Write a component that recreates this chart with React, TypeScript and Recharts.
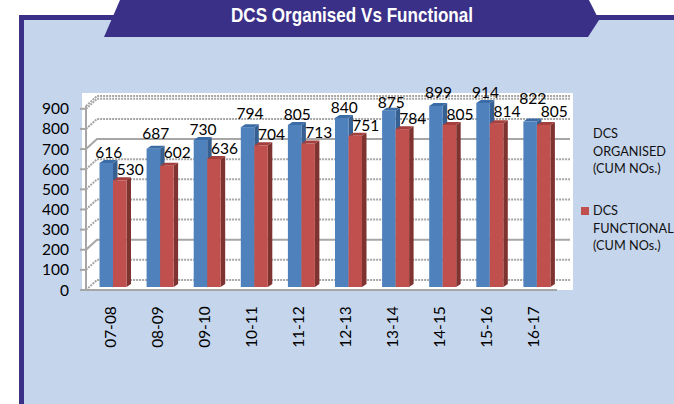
import React from "react";
import { BarChart, Bar, XAxis, YAxis, CartesianGrid, LabelList, Legend } from "recharts";

const categories = ["07-08", "08-09", "09-10", "10-11", "11-12", "12-13", "13-14", "14-15", "15-16", "16-17"];
const organised = [616, 687, 730, 794, 805, 840, 875, 899, 914, 822];
const functional = [530, 602, 636, 704, 713, 751, 784, 805, 814, 805];
const yTicks = [0, 100, 200, 300, 400, 500, 600, 700, 800, 900];
const seriesNames = ["DCS ORGANISED (CUM NOs.)", "DCS FUNCTIONAL (CUM NOs.)"];
const title = "DCS Organised Vs Functional";

const data = categories.map((c, i) => ({ category: c, organised: organised[i], functional: functional[i] }));

const FONT = "Lato, 'Open Sans', sans-serif";
const PURPLE = "#3b3087";
const PANEL = "#c5d5ec";
const GRID = "#a6a6a6";
const BAR_DX = 3.5;
const BAR_DY = -3;
const DEPTH_X = 4.5;
const DEPTH_Y = -3;
const WALL_DX = 11;
const WALL_DY = -10;
const organisedLift: Record<number, number> = { 1: 5, 3: 3, 6: -2, 7: 3, 9: 13 };
const functionalLift: Record<number, number> = { 1: 3, 8: 1, 9: 3 };

function bar3d(front: string, top: string, side: string) {
  return (p: any) => {
    const x = p.x + BAR_DX;
    const y = p.y + BAR_DY;
    const w = p.width;
    const h = p.height;
    return (
      <g>
        <path d={`M${x + w} ${y}L${x + w + DEPTH_X} ${y + DEPTH_Y}V${y + h + DEPTH_Y}L${x + w} ${y + h}Z`} fill={side} />
        <path d={`M${x} ${y}L${x + DEPTH_X} ${y + DEPTH_Y}H${x + w + DEPTH_X}L${x + w} ${y}Z`} fill={top} />
        <rect x={x} y={y} width={w} height={h} fill={front} />
      </g>
    );
  };
}

function valueLabel(dx: number, lift: Record<number, number>) {
  return (p: any) => (
    <text
      x={p.x + p.width / 2 + BAR_DX + dx}
      y={p.y + BAR_DY - 5 - (lift[p.index] ?? 0)}
      textAnchor="middle"
      fontFamily={FONT}
      fontSize={15.5}
      fill="#000"
    >
      {p.value}
    </text>
  );
}

function gridLine(p: any) {
  const y = p.y1;
  const dotted = !(p.index === 2 || p.index === 7);
  return (
    <path
      key={p.key}
      d={`M${p.x1} ${y}L${p.x1 + WALL_DX} ${y + WALL_DY}H${p.x2 + WALL_DX + 2}`}
      fill="none"
      stroke={GRID}
      strokeWidth={2}
      strokeDasharray={dotted ? "2 1" : undefined}
    />
  );
}

function xTick(p: any) {
  return (
    <text
      x={p.x + 6}
      y={327}
      transform={`rotate(-90 ${p.x + 6} 327)`}
      textAnchor="middle"
      fontFamily={FONT}
      fontSize={15.5}
      fill="#000"
    >
      {p.payload.value}
    </text>
  );
}

function legendContent() {
  const lineStyle: React.CSSProperties = { fontFamily: FONT, fontSize: 12.7, lineHeight: "17.5px", color: "#111" };
  const words = (s: string) => {
    const m = s.match(/^(\S+) (\S+) (.*)$/);
    return m ? [m[1], m[2], m[3]] : [s];
  };
  return (
    <div style={{ position: "relative", width: 96, height: 140 }}>
      {seriesNames.map((name, i) => (
        <div key={name} style={{ position: "absolute", left: 15, top: i === 0 ? 0 : 77, whiteSpace: "nowrap", ...lineStyle }}>
          {i === 1 && (
            <span style={{ position: "absolute", left: -12.5, top: 5, width: 8, height: 8, background: "#c0504d" }} />
          )}
          {words(name).map((w) => (
            <div key={w}>{w}</div>
          ))}
        </div>
      ))}
    </div>
  );
}

export default function App() {
  return (
    <div style={{ position: "absolute", left: 0, top: 0, width: 674, height: 404, overflow: "hidden", background: "#fff" }}>
      <svg width={674} height={404} style={{ position: "absolute", left: 0, top: 0 }}>
        <rect x={19} y={15} width={655} height={389} fill={PURPLE} />
        <rect x={24} y={20} width={650} height={384} fill={PANEL} />
        <path d="M120 0L104 37H588L599 20L589 0Z" fill={PURPLE} />
        <path d="M589 0L599 15H674V0Z" fill="#fff" />
        <rect x={82} y={93} width={491} height={197} fill="#fff" />
        <text
          x={352}
          y={22}
          textAnchor="middle"
          fontFamily="'Liberation Sans Narrow', 'Liberation Sans', sans-serif"
          fontWeight="bold"
          fontSize={21}
          fill="#fff"
          textLength={242}
          lengthAdjust="spacingAndGlyphs"
        >
          {title}
        </text>
      </svg>
      <div style={{ position: "absolute", left: 0, top: 0 }}>
        <BarChart
          width={674}
          height={404}
          data={data}
          margin={{ top: 106, right: 117, bottom: 0, left: 0 }}
          barSize={13.5}
          barGap={0}
        >
          <CartesianGrid vertical={false} horizontal={gridLine as any} />
          <XAxis
            dataKey="category"
            height={114}
            axisLine={{ stroke: GRID, strokeWidth: 2 }}
            tickLine={false}
            tick={xTick as any}
            interval={0}
          />
          <YAxis
            width={86}
            domain={[0, 900]}
            ticks={yTicks}
            interval={0}
            axisLine={{ stroke: GRID, strokeWidth: 2 }}
            tickLine={{ stroke: GRID, strokeWidth: 2 }}
            tickSize={6}
            tickMargin={11}
            tick={{ fontFamily: FONT, fontSize: 15.5, fill: "#000" }}
          />
          <Legend layout="vertical" align="center" verticalAlign="middle" content={legendContent as any} wrapperStyle={{ position: "absolute", left: 578, top: 125, width: 96, height: 140 }} />
          <Bar dataKey="organised" name={seriesNames[0]} fill="#4f81bd" shape={bar3d("#4f81bd", "#3c6ca5", "#376092") as any} isAnimationActive={false}>
            <LabelList dataKey="organised" content={valueLabel(2.5, organisedLift) as any} />
          </Bar>
          <Bar dataKey="functional" name={seriesNames[1]} fill="#c0504d" shape={bar3d("#c0504d", "#a33f3c", "#7f3331") as any} isAnimationActive={false}>
            <LabelList dataKey="functional" content={valueLabel(10.5, functionalLift) as any} />
          </Bar>
        </BarChart>
      </div>
    </div>
  );
}
